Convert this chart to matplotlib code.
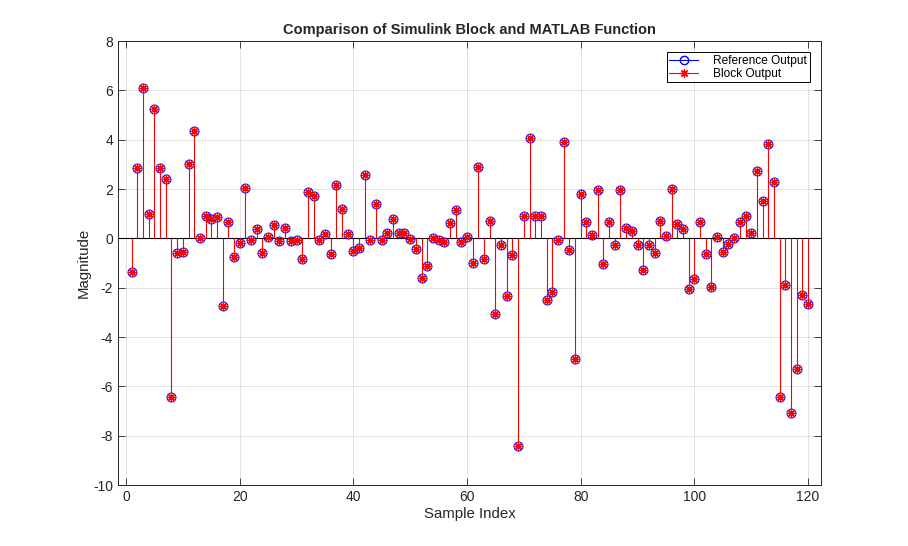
import numpy as np
import matplotlib
matplotlib.use("Agg")
import matplotlib.pyplot as plt
from matplotlib.lines import Line2D
from matplotlib.legend_handler import HandlerLine2D

plt.rcParams['font.family'] = ['Liberation Sans', 'DejaVu Sans']
plt.rcParams['axes.unicode_minus'] = False

# sample values
ref_output = [
    -1.35, 2.87, 6.11, 0.99, 5.23, 2.87, 2.40, -6.44, -0.61, -0.56,
    3.03, 4.37, 0.00, 0.90, 0.80, 0.86, -2.76, 0.65, -0.76, -0.20,
    2.04, -0.08, 0.38, -0.61, 0.05, 0.53, -0.12, 0.41, -0.12, -0.05,
    -0.82, 1.88, 1.71, -0.05, 0.18, -0.64, 2.16, 1.18, 0.18, -0.53,
    -0.41, 2.58, -0.05, 1.40, -0.08, 0.23, 0.77, 0.20, 0.20, -0.02,
    -0.43, -1.59, -1.14, 0.00, -0.08, -0.15, 0.61, 1.14, -0.16, 0.04,
    -1.00, 2.89, -0.84, 0.69, -3.06, -0.29, -2.32, -0.69, -8.40, 0.91,
    4.08, 0.91, 0.91, -2.49, -2.16, -0.07, 3.91, -0.48, -4.89, 1.81,
    0.67, 0.14, 1.96, -1.06, 0.67, -0.29, 1.96, 0.41, 0.30, -0.29,
    -1.29, -0.29, -0.61, 0.69, 0.08, 2.00, 0.58, 0.38, -2.04, -1.66,
    0.67, -0.64, -1.98, 0.05, -0.56, -0.23, 0.02, 0.67, 0.90, 0.22,
    2.73, 1.51, 3.83, 2.28, -6.44, -1.88, -7.08, -5.30, -2.28, -2.68,
]
block_output = list(ref_output)  # block matches the reference exactly
sample_index = np.arange(1, len(ref_output) + 1)

x_ticks = [0, 20, 40, 60, 80, 100, 120]
y_ticks = [-10, -8, -6, -4, -2, 0, 2, 4, 6, 8]


class EndMarkerHandler(HandlerLine2D):
    # marker sits at the right end of the legend line, like MATLAB stem
    def get_xdata(self, legend, xdescent, ydescent, width, height, fontsize):
        xdata = [-xdescent, -xdescent + width]
        return xdata, [-xdescent + width]


fig = plt.figure(figsize=(9.08, 5.46), dpi=100)
ax = fig.add_axes([0.13, 0.1117, 0.7743, 0.8132])

ax.axhline(0, color='k', lw=0.8, zorder=2)
ax.vlines(sample_index, 0, ref_output, color='blue', lw=0.6, zorder=2)
ax.plot(sample_index, ref_output, ls='none', marker='o', ms=6.5,
        mfc='none', mec='blue', mew=0.7, zorder=3)
ax.vlines(sample_index, 0, block_output, color='red', lw=0.8, zorder=4)
ax.plot(sample_index, block_output, ls='none', marker=(8, 2, 0), ms=6.3,
        color='red', mew=0.9, zorder=5)

ax.set_xlim(-1.4, 122.3)
ax.set_ylim(-10, 8)
ax.set_xticks(x_ticks)
ax.set_yticks(y_ticks)
ax.grid(True, color='#262626', alpha=0.15, lw=0.6)
ax.set_axisbelow(True)
ax.tick_params(direction='in', top=True, right=True, labelsize=10,
               color='#262626', labelcolor='#262626', length=5, width=0.6)
for s in ax.spines.values():
    s.set_color('#262626')
    s.set_linewidth(0.7)

ax.set_title('Comparison of Simulink Block and MATLAB Function',
             fontsize=10.5, fontweight='bold', color='#262626', pad=5)
ax.set_xlabel('Sample Index', fontsize=10.8, color='#262626', labelpad=2)
ax.set_ylabel('Magnitude', fontsize=10.8, color='#262626', labelpad=2)

h_ref = Line2D([], [], color='blue', lw=0.8, marker='o', ms=6,
               mfc='none', mec='blue')
h_blk = Line2D([], [], color='red', lw=0.8, marker=(8, 2, 0), ms=6, mew=0.9)
leg = ax.legend([h_ref, h_blk], ['Reference Output', 'Block Output'],
                loc='upper right', fontsize=8.6, frameon=True, fancybox=False,
                edgecolor='k', framealpha=1, borderpad=0.2, labelspacing=0.1,
                handlelength=2.4, handletextpad=1.3, borderaxespad=0.95,
                handler_map={Line2D: EndMarkerHandler(numpoints=1)})
leg.get_frame().set_linewidth(0.7)

fig.savefig('out.png', dpi=100)
